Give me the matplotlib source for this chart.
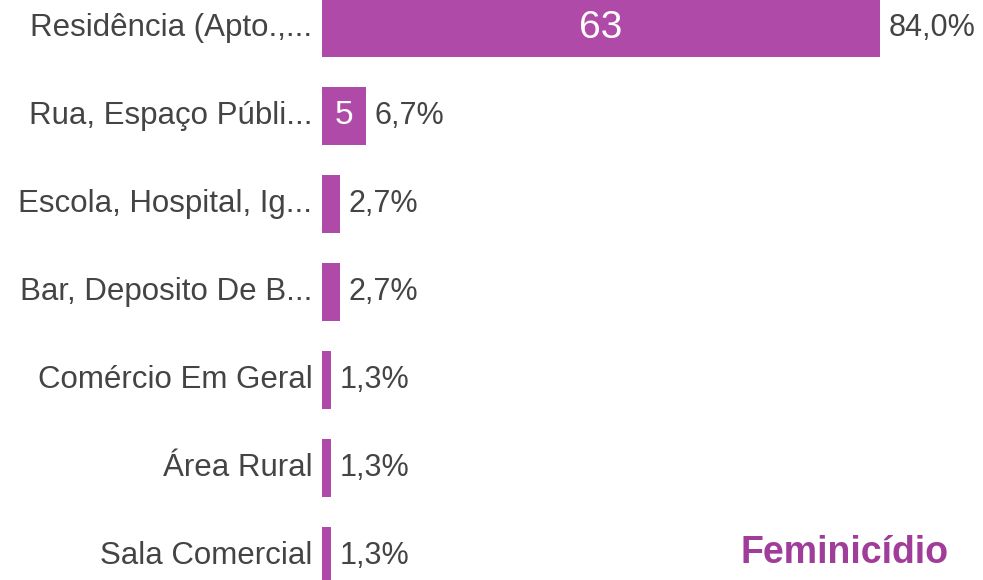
import matplotlib
matplotlib.use("Agg")
import matplotlib.pyplot as plt

categories = ["Residência (Apto.,...", "Rua, Espaço Públi...", "Escola, Hospital, Ig...",
              "Bar, Deposito De B...", "Comércio Em Geral", "Área Rural", "Sala Comercial"]
counts = [63, 5, 2, 2, 1, 1, 1]
pct_labels = ["84,0%", "6,7%", "2,7%", "2,7%", "1,3%", "1,3%", "1,3%"]
inside_labels = ["63", "5", "", "", "", "", ""]
title = "Feminicídio"

plt.rcParams['font.family'] = ['Liberation Sans', 'DejaVu Sans']
bar_color = "#B04AA8"
text_color = "#444444"

fig = plt.figure(figsize=(9.83, 5.8), dpi=100)
ax = fig.add_axes([322/983, 0, 1 - 322/983, 1])

y = list(range(len(categories)))
ax.barh(y, counts, height=0.65, color=bar_color)
ax.set_xlim(0, 661 / (558/63))
ax.set_ylim((580 - 28)/88, -28/88)

for i, (c, p, ins) in enumerate(zip(counts, pct_labels, inside_labels)):
    ax.annotate(p, (c, i), xytext=(6, 0), textcoords="offset points",
                ha="left", va="center", fontsize=22, color=text_color)
    if ins:
        ax.text(c/2, i, ins, ha="center", va="center",
                fontsize=28 if c > 10 else 24, color="white")
    ax.annotate(categories[i], (0, i), xytext=(-7, 0), textcoords="offset points",
                ha="right", va="center", fontsize=22.5, color=text_color, annotation_clip=False)

ax.axis("off")
fig.text(845/983, 1 - 553/580, title, ha="center", va="center", fontsize=27,
         fontweight="bold", color="#A03C9A")

fig.savefig("out.png", dpi=100)
